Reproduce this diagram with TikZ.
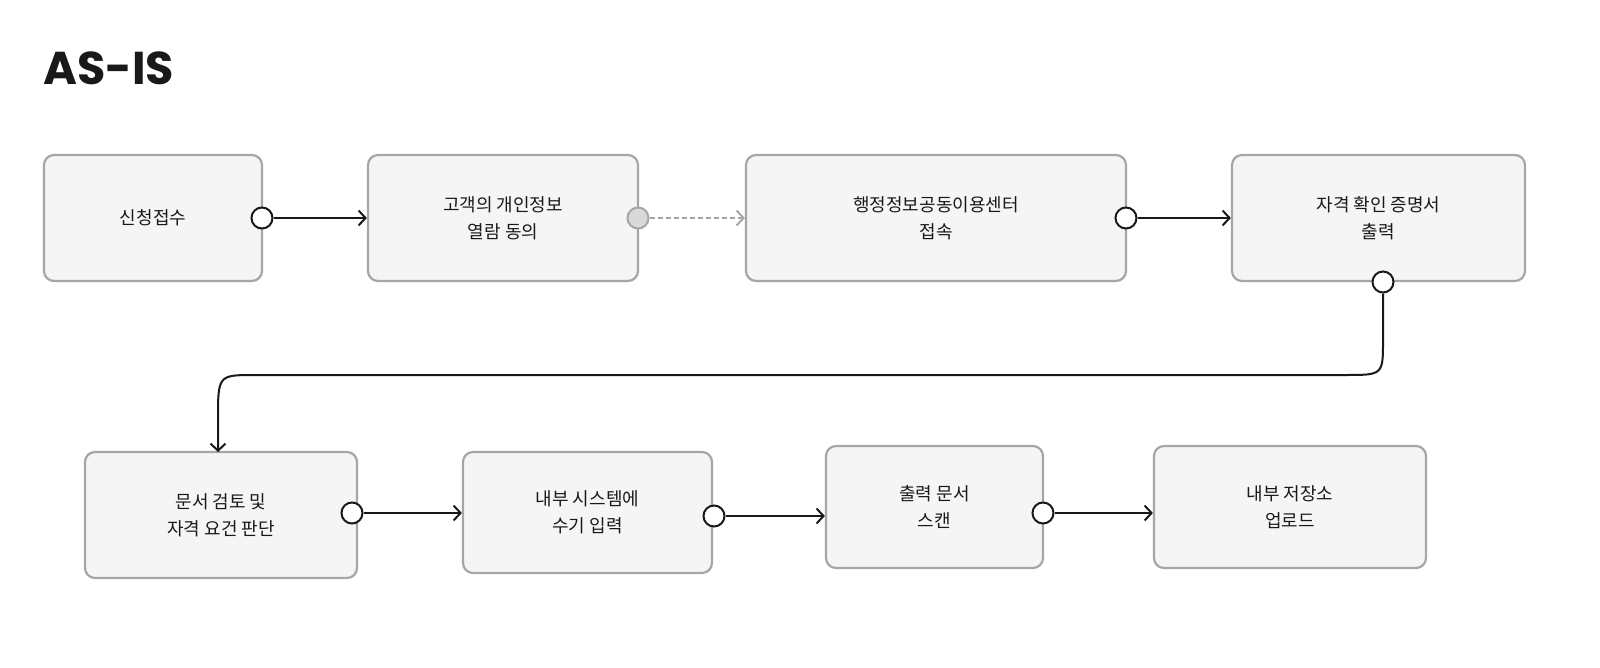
\documentclass[tikz,border=0pt]{standalone}
\usepackage{fontspec}
\setmainfont{Noto Sans CJK KR}
\newfontfamily\titlefont{Poppins}
\usetikzlibrary{arrows.meta}
\begin{document}
\begin{tikzpicture}[x=1pt,y=-1pt,
  box/.style={draw=black!35,line width=2.2pt,fill=black!4,rounded corners=10pt,align=center,font=\fontsize{18}{27}\selectfont,text=black!90},
  dot/.style={circle,draw=black!90,line width=2pt,fill=white,minimum size=21pt,inner sep=0pt},
  gdot/.style={circle,draw=black!35,line width=2pt,fill=black!15,minimum size=21pt,inner sep=0pt},
  arr/.style={line width=2pt,draw=black!90,-{Straight Barb[length=7pt,width=15pt,line width=2pt]}},
  darr/.style={line width=2pt,draw=black!35,dashed,dash pattern=on 5pt off 3pt,-{Straight Barb[length=7pt,width=15pt,line width=2pt]}}]
\useasboundingbox (0,0) rectangle (1600,668);
\node[anchor=west,font=\titlefont\fontsize{46}{50}\bfseries\selectfont,text=black!90] (title) at (40,68) {AS-IS};
\newcommand{\bx}[6]{\node[box,minimum width=#4-#2,minimum height=#5-#3] (#1) at ({(#2+#4)/2},{(#3+#5)/2}) {#6};}
\bx{b1}{44}{155}{262}{281}{신청접수}
\bx{b2}{368}{155}{638}{281}{고객의 개인정보\\열람 동의}
\bx{b3}{746}{155}{1126}{281}{행정정보공동이용센터\\접속}
\bx{b4}{1232}{155}{1525}{281}{자격 확인 증명서\\출력}
\bx{b5}{85}{452}{357}{578}{문서 검토 및\\자격 요건 판단}
\bx{b6}{463}{452}{712}{573}{내부 시스템에\\수기 입력}
\bx{b7}{826}{446}{1043}{568}{출력 문서\\스캔}
\bx{b8}{1154}{446}{1426}{568}{내부 저장소\\업로드}
\node[dot] (c1) at (262,218) {};
\node[gdot] (c2) at (638,218) {};
\node[dot] (c3) at (1126,218) {};
\node[dot] (c4) at (1383,282) {};
\node[dot] (c5) at (352,513) {};
\node[dot] (c6) at (714,516) {};
\node[dot] (c7) at (1043,513) {};
\draw[arr] (c1) -- (b2.west|-c1);
\draw[darr] (c2) -- (b3.west|-c2);
\draw[arr] (c3) -- (b4.west|-c3);
\draw[arr] (c5) -- (b6.west|-c5);
\draw[arr] (c6) -- (b7.west|-c6);
\draw[arr] (c7) -- (b8.west|-c7);
\coordinate (k1) at (1383,340);
\coordinate (k2) at (218,420);
\draw[arr] (c4) -- (k1) .. controls (1383,375) .. (1345,375) -- (255,375) .. controls (218,375) .. (k2) -- (218,452);
\end{tikzpicture}
\end{document}
